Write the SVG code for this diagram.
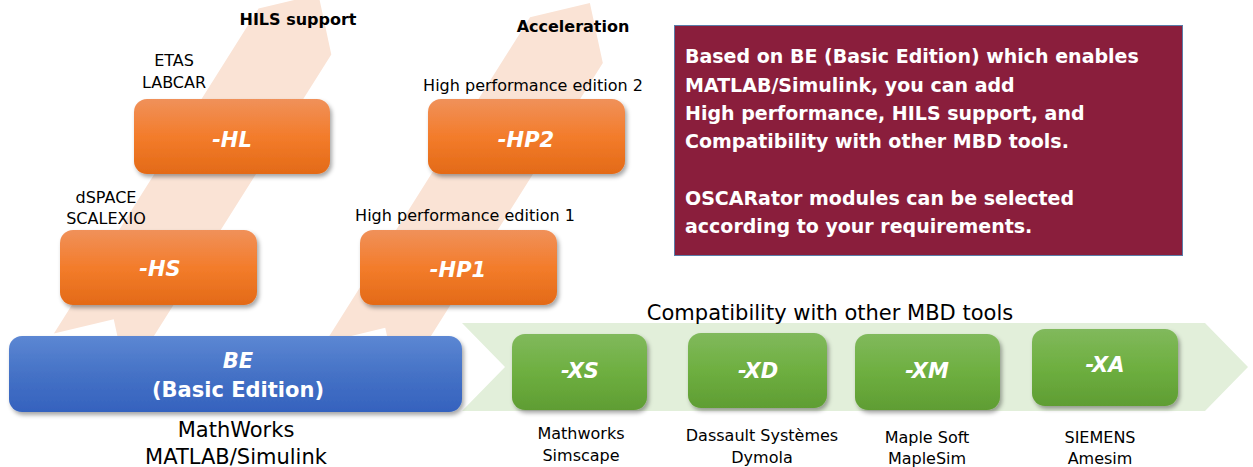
<svg xmlns="http://www.w3.org/2000/svg" width="1253" height="467" viewBox="0 0 1253 467">
<defs>
<linearGradient id="gOr" x1="0" y1="0" x2="0" y2="1">
<stop offset="0" stop-color="#F0915A"/><stop offset="0.5" stop-color="#F37C2B"/><stop offset="1" stop-color="#E36A17"/>
</linearGradient>
<linearGradient id="gGr" x1="0" y1="0" x2="0" y2="1">
<stop offset="0" stop-color="#81B95C"/><stop offset="0.5" stop-color="#6EAF40"/><stop offset="1" stop-color="#5F9D33"/>
</linearGradient>
<linearGradient id="gBl" x1="0" y1="0" x2="0" y2="1">
<stop offset="0" stop-color="#5C87D3"/><stop offset="0.5" stop-color="#4572C6"/><stop offset="1" stop-color="#3562BE"/>
</linearGradient>
<filter id="sh" x="-10%" y="-10%" width="125%" height="135%">
<feDropShadow dx="2" dy="3" stdDeviation="2" flood-color="#000" flood-opacity="0.35"/>
</filter>
<polygon id="chev" points="0,-43 384,-43 428,0 384,43 0,43 44,0"/>
</defs>
<style>
.lbl{font-family:"DejaVu Sans",Verdana,sans-serif;font-size:16px;fill:#000;text-anchor:middle}
.big{font-family:"DejaVu Sans",Verdana,sans-serif;font-size:21px;fill:#000;text-anchor:middle}
.hdr{font-family:"DejaVu Sans",Verdana,sans-serif;font-size:16px;font-weight:bold;fill:#000;text-anchor:middle}
.bx{font-family:"DejaVu Sans",Verdana,sans-serif;font-size:21px;font-weight:bold;font-style:italic;fill:#fff;text-anchor:middle}
.bxn{font-family:"DejaVu Sans",Verdana,sans-serif;font-size:21px;font-weight:bold;fill:#fff;text-anchor:middle}
.note{font-family:"DejaVu Sans",Verdana,sans-serif;font-size:19px;font-weight:bold;fill:#fff}
.or{fill:url(#gOr);filter:url(#sh)}
.gr{fill:url(#gGr);filter:url(#sh)}
.bl{fill:url(#gBl);filter:url(#sh)}
.pale{fill:#FAE3D5}
</style>
<g id="connectors">
<use href="#chev" class="pale" transform="translate(90.3,356.4) rotate(-57.8)"/>
<use href="#chev" class="pale" transform="translate(361.8,365.1) rotate(-57.8)"/>
<polygon fill="#E2EFDA" points="462,323 1205,323 1248,367 1205,411 462,411 505,367"/>
</g>
<text class="hdr" x="298" y="25">HILS support</text>
<text class="hdr" x="573" y="32">Acceleration</text>
<text class="big" x="830" y="320">Compatibility with other MBD tools</text>
<g id="node-HL">
<rect class="or" x="134" y="99" width="196" height="75" rx="13"/>
<text class="bx" x="232" y="147">-HL</text>
<text class="lbl" x="174" y="66">ETAS</text>
<text class="lbl" x="174" y="88">LABCAR</text>
</g>
<g id="node-HP2">
<rect class="or" x="428" y="99" width="197" height="75" rx="13"/>
<text class="bx" x="526" y="147">-HP2</text>
<text class="lbl" x="533" y="91">High performance edition 2</text>
</g>
<g id="node-HS">
<rect class="or" x="60" y="230" width="197" height="75" rx="13"/>
<text class="bx" x="160" y="276">-HS</text>
<text class="lbl" x="106" y="203">dSPACE</text>
<text class="lbl" x="106" y="224">SCALEXIO</text>
</g>
<g id="node-HP1">
<rect class="or" x="360" y="230" width="197" height="75" rx="13"/>
<text class="bx" x="458" y="277">-HP1</text>
<text class="lbl" x="465" y="221">High performance edition 1</text>
</g>
<g id="node-BE">
<rect class="bl" x="9" y="336" width="453" height="76" rx="13"/>
<text class="bx" x="238" y="368">BE</text>
<text class="bxn" x="238" y="397">(Basic Edition)</text>
<text class="big" x="236" y="437">MathWorks</text>
<text class="big" x="236" y="464">MATLAB/Simulink</text>
</g>
<g id="node-XS">
<rect class="gr" x="512" y="334" width="135" height="76" rx="13"/>
<text class="bx" x="580" y="378">-XS</text>
<text class="lbl" x="581" y="439">Mathworks</text>
<text class="lbl" x="581" y="461">Simscape</text>
</g>
<g id="node-XD">
<rect class="gr" x="688" y="333" width="139" height="75" rx="13"/>
<text class="bx" x="758" y="378">-XD</text>
<text class="lbl" x="762" y="441">Dassault Systèmes</text>
<text class="lbl" x="762" y="463">Dymola</text>
</g>
<g id="node-XM">
<rect class="gr" x="855" y="334" width="145" height="76" rx="13"/>
<text class="bx" x="927" y="378">-XM</text>
<text class="lbl" x="927" y="443">Maple Soft</text>
<text class="lbl" x="927" y="464">MapleSim</text>
</g>
<g id="node-XA">
<rect class="gr" x="1032" y="329" width="146" height="77" rx="13"/>
<text class="bx" x="1105" y="372">-XA</text>
<text class="lbl" x="1100" y="443">SIEMENS</text>
<text class="lbl" x="1100" y="464">Amesim</text>
</g>
<g id="node-note">
<rect x="674.5" y="25.5" width="508" height="230" fill="#8A1E3C" stroke="#5A7CA8" stroke-width="1"/>
<text class="note" x="685" y="63">Based on BE (Basic Edition) which enables</text>
<text class="note" x="685" y="92">MATLAB/Simulink, you can add</text>
<text class="note" x="685" y="120">High performance, HILS support, and</text>
<text class="note" x="685" y="148">Compatibility with other MBD tools.</text>
<text class="note" x="685" y="205">OSCARator modules can be selected</text>
<text class="note" x="685" y="233">according to your requirements.</text>
</g>
</svg>
